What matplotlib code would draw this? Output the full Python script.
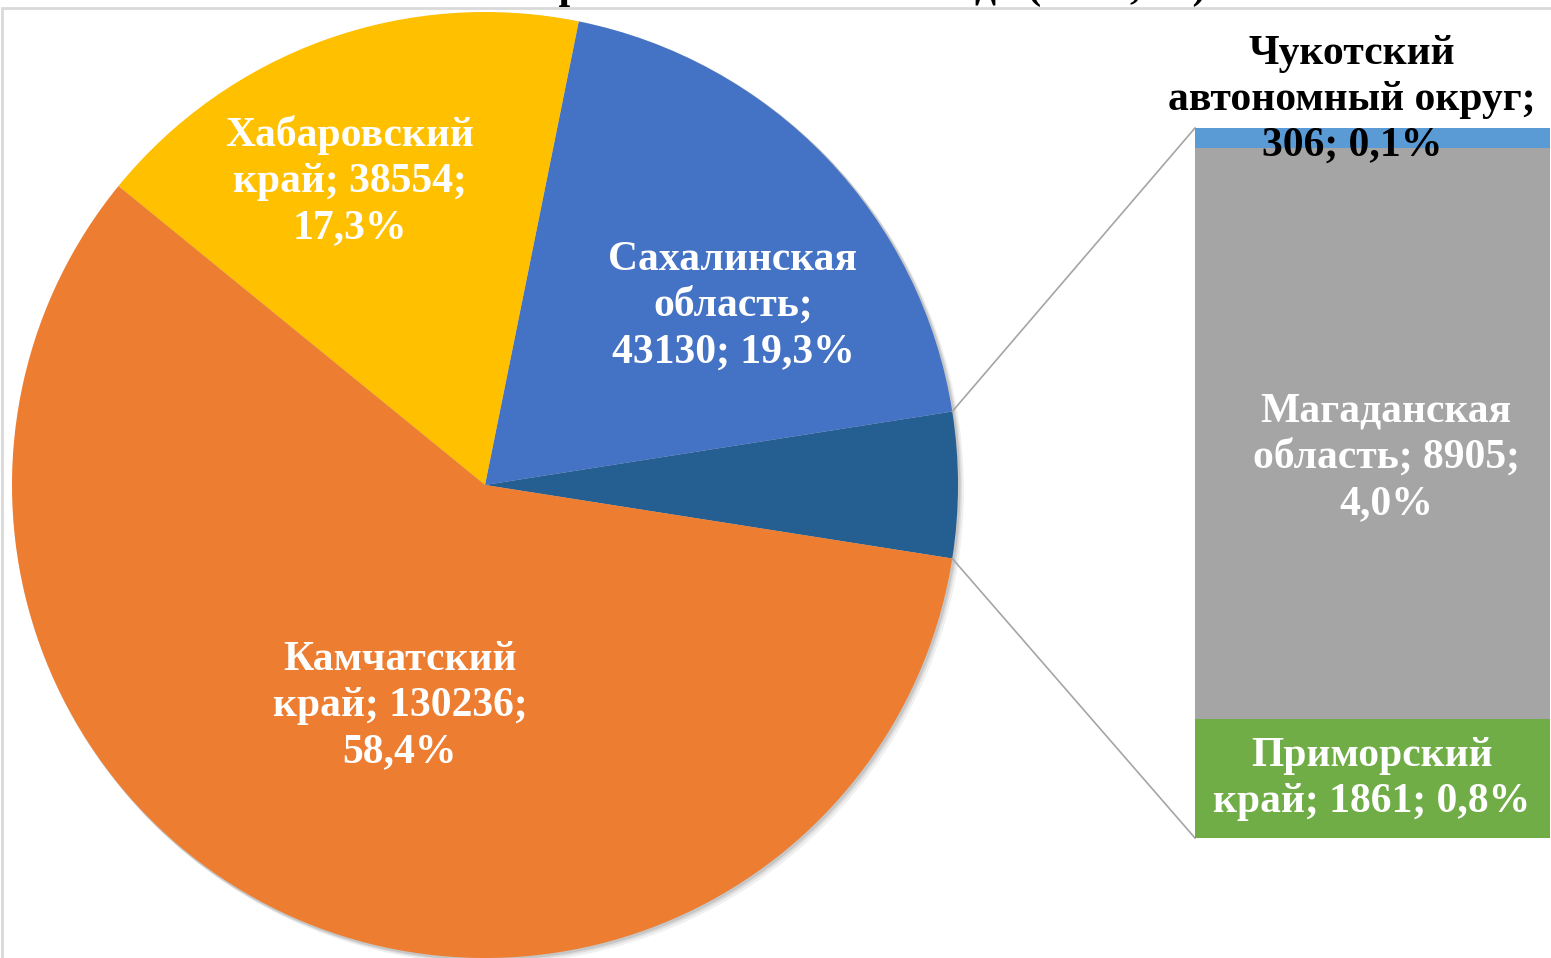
import matplotlib
matplotlib.use("Agg")
import numpy as np
import matplotlib.pyplot as plt
from matplotlib.patches import Rectangle, Circle

# данные (тонн)
pie_regions = ["Камчатский\nкрай", "Хабаровский\nкрай", "Сахалинская\nобласть"]
pie_values = [130236, 38554, 43130]
bar_regions = ["Приморский\nкрай", "Магаданская\nобласть", "Чукотский\nавтономный округ"]
bar_values = [1861, 8905, 306]

pie_colors = ["#ED7D31", "#FFC000", "#4472C4"]
other_color = "#255E91"
bar_colors = ["#70AD47", "#A5A5A5", "#5B9BD5"]

total = sum(pie_values) + sum(bar_values)
other = sum(bar_values)

def pct(v):
    return f"{v / total * 100:.1f}%".replace(".", ",")

plt.rcParams["font.family"] = ["Liberation Serif", "DejaVu Serif"]

W, H = 1551, 958
fig = plt.figure(figsize=(W / 100, H / 100), dpi=100)
ax = fig.add_axes([0, 0, 1, 1])

# рамка области диаграммы
fig.add_artist(Rectangle((2 / W, -0.1), 1.2, 1 - 8 / H + 0.1, fill=False,
                         ec="#D9D9D9", lw=2, transform=fig.transFigure))

# круговая часть: "прочие", Сахалин, Хабаровск, Камчатка (против часовой)
vals = [other, pie_values[2], pie_values[1], pie_values[0]]
cols = [other_color, pie_colors[2], pie_colors[1], pie_colors[0]]
cx, cy, r = 485, 473, 473
start = -other / total * 360 / 2

# мягкая тень
for k, a in [(5, 0.06), (3, 0.08), (1.5, 0.1)]:
    ax.add_patch(Circle((cx + k, cy - k), r + 1, color="black", alpha=a, lw=0, zorder=0))

ax.pie(vals, colors=cols, startangle=start, counterclock=True,
       center=(cx, cy), radius=r, frame=True,
       wedgeprops=dict(linewidth=0, zorder=1))
ax.set_xlim(0, W)
ax.set_ylim(0, H)
ax.set_aspect("equal")
ax.axis("off")

# столбец вторичной диаграммы
bx, bw = 1372.5, 355
b_bottom, b_top = 120, 830
scale = (b_top - b_bottom) / other
bottom = b_bottom
for v, c in zip(bar_values, bar_colors):
    ax.bar(bx, v * scale, width=bw, bottom=bottom, color=c, linewidth=0, zorder=3)
    bottom += v * scale

# соединительные линии
a1 = np.deg2rad(start)
a2 = np.deg2rad(start + other / total * 360)
ax.plot([cx + r * np.cos(a1), bx - bw / 2], [cy + r * np.sin(a1), b_bottom],
        color="#A5A5A5", lw=1.2, zorder=2)
ax.plot([cx + r * np.cos(a2), bx - bw / 2], [cy + r * np.sin(a2), b_top],
        color="#A5A5A5", lw=1.2, zorder=2)

fs = 30
lab = dict(ha="center", va="center", fontsize=fs, fontweight="bold",
           linespacing=1.28, zorder=5)
ax.text(400, 252, f"Камчатский\nкрай; {pie_values[0]};\n{pct(pie_values[0])}",
        color="white", **lab)
ax.text(350, 777, f"Хабаровский\nкрай; {pie_values[1]};\n{pct(pie_values[1])}",
        color="white", **lab)
ax.text(733, 652, f"Сахалинская\nобласть;\n{pie_values[2]}; {pct(pie_values[2])}",
        color="white", **lab)
ax.text(1386, 500, f"Магаданская\nобласть; {bar_values[1]};\n{pct(bar_values[1])}",
        color="white", **lab)
ax.text(1372, 179, f"Приморский\nкрай; {bar_values[0]}; {pct(bar_values[0])}",
        color="white", **lab)
ax.text(1352, 858, f"Чукотский\nавтономный округ;\n{bar_values[2]}; {pct(bar_values[2])}",
        color="black", **lab)

# заголовок (обрезан верхним краем, как в исходнике)
fig.text(787 / W, 1 + 2 / H, "Вылов по регионам в течение года (тонн, %)",
         ha="center", va="baseline", fontsize=fs, fontweight="bold")

fig.savefig("out.png", dpi=100)
